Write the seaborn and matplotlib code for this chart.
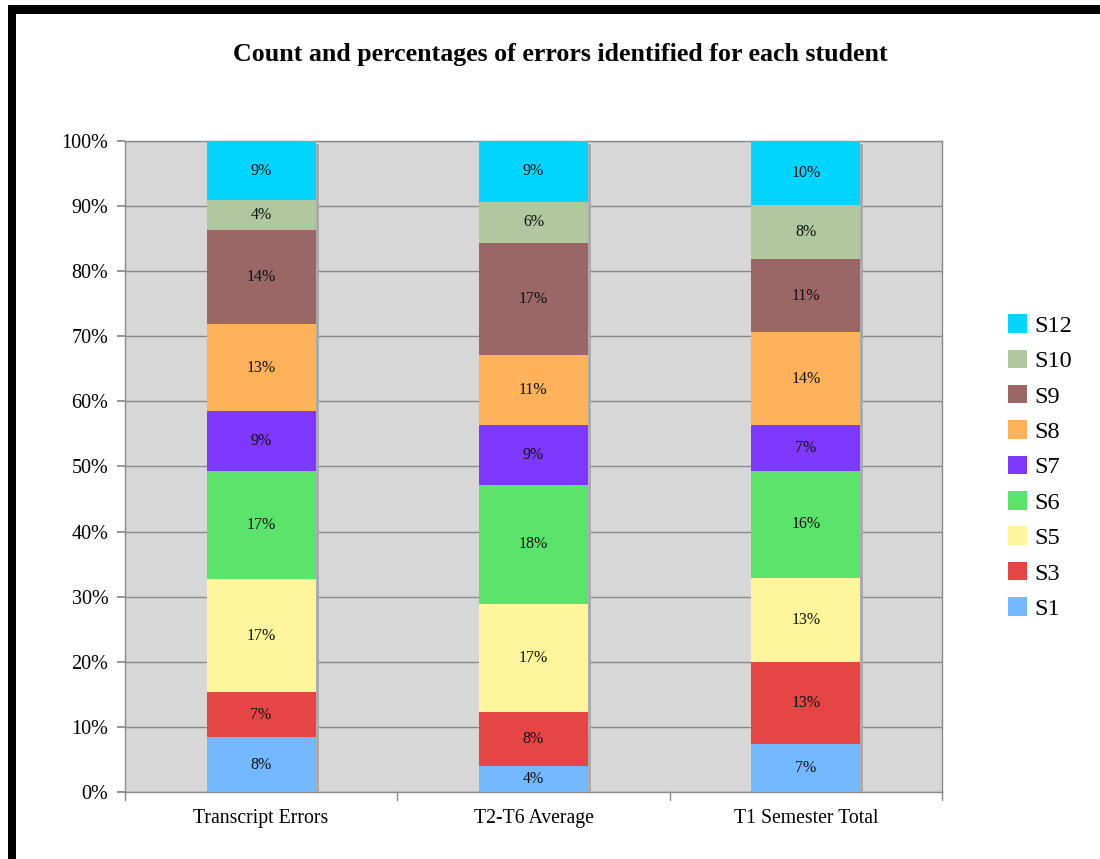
import numpy as np
import pandas as pd
import matplotlib
matplotlib.use("Agg")
import matplotlib.pyplot as plt
import matplotlib.patheffects as pe
from matplotlib.patches import Rectangle, Patch
import seaborn as sns

categories = ["Transcript Errors", "T2-T6 Average", "T1 Semester Total"]
students = ["S1", "S3", "S5", "S6", "S7", "S8", "S9", "S10", "S12"]
s1 = [8.4, 4.0, 7.4]
s3 = [6.9, 8.3, 12.6]
s5 = [17.4, 16.6, 12.9]
s6 = [16.6, 18.3, 16.4]
s7 = [9.2, 9.1, 7.1]
s8 = [13.4, 10.9, 14.2]
s9 = [14.5, 17.2, 11.2]
s10 = [4.5, 6.3, 8.4]
s12 = [9.1, 9.3, 9.8]
colors = ["#74B8FF", "#E64545", "#FFF59C", "#5BE36B", "#7E38FF",
          "#FFB259", "#9A6666", "#B0C7A0", "#00D4FF"]

series = [s1, s3, s5, s6, s7, s8, s9, s10, s12]
vals = np.array(series, dtype=float)
vals = vals / vals.sum(axis=0) * 100.0
cum = np.cumsum(vals, axis=0)

sns.set_theme(style="white")
plt.rcParams["font.family"] = ["Liberation Serif", "DejaVu Serif"]
plt.rcParams["text.color"] = "black"
plt.rcParams["xtick.labelcolor"] = "black"
plt.rcParams["ytick.labelcolor"] = "black"

fig = plt.figure(figsize=(11, 8.59), dpi=100)
ax = fig.add_axes([0.1136, 0.078, 0.7427, 0.7579])
ax.set_facecolor("#D7D7D7")

for i in range(len(students) - 1, -1, -1):
    df = pd.DataFrame({"cat": categories, "top": cum[i]})
    sns.barplot(data=df, x="cat", y="top", order=categories, color=colors[i],
                width=0.4, saturation=1, ax=ax, linewidth=0, zorder=3)

# shadow on the full stack
top_bars = ax.patches[:3]
for p in top_bars:
    p.set_path_effects([pe.SimplePatchShadow(offset=(2.2, -2), shadow_rgbFace="#ABABAB", alpha=1),
                        pe.Normal()])

for i in range(len(students)):
    for j in range(len(categories)):
        yc = cum[i, j] - vals[i, j] / 2
        ax.text(j, yc, f"{int(round(vals[i, j]))}%", ha="center", va="center",
                fontsize=11.5, color="#111111", zorder=5)

ax.set_xlim(-0.5, 2.5)
ax.set_ylim(0, 100)
ax.set_yticks(np.arange(0, 101, 10))
ax.set_yticklabels([f"{v}%" for v in range(0, 101, 10)], fontsize=14.5)
ax.set_xticks(range(3))
ax.set_xticklabels(categories, fontsize=14.2)
ax.tick_params(axis="x", length=0, pad=12)
ax.tick_params(axis="y", length=6, color="#888888", direction="out", left=True, pad=6)
for b in [-0.5, 0.5, 1.5, 2.5]:
    ax.plot([b, b], [0, -0.012], transform=ax.get_xaxis_transform(), color="#888888",
            lw=1, clip_on=False)
ax.grid(axis="y", color="#8A8A8A", lw=1, zorder=1)
ax.set_axisbelow(True)
for s in ax.spines.values():
    s.set_color("#8A8A8A")
    s.set_linewidth(1)
ax.set_xlabel("")
ax.set_ylabel("")

fig.text(0.509, 0.937, "Count and percentages of errors identified for each student",
         ha="center", va="center", fontsize=18.6, fontweight="bold", color="black")

handles = [Patch(facecolor=colors[i], edgecolor="none") for i in range(len(students) - 1, -1, -1)]
labels = [students[i] for i in range(len(students) - 1, -1, -1)]
fig.legend(handles, labels, loc="center left", bbox_to_anchor=(0.905, 0.4563), frameon=False,
           fontsize=17.5, handlelength=0.8, handleheight=0.8, handletextpad=0.3,
           labelspacing=0.52, borderpad=0)

# black frame (top and left)
fig.add_artist(Rectangle((8 / 1100, 0), 8 / 1100, 1 - 5 / 859, transform=fig.transFigure,
                         facecolor="black", edgecolor="none"))
fig.add_artist(Rectangle((8 / 1100, 1 - 14 / 859), 1, 9 / 859, transform=fig.transFigure,
                         facecolor="black", edgecolor="none"))

fig.savefig("out.png", dpi=100, facecolor="white")
